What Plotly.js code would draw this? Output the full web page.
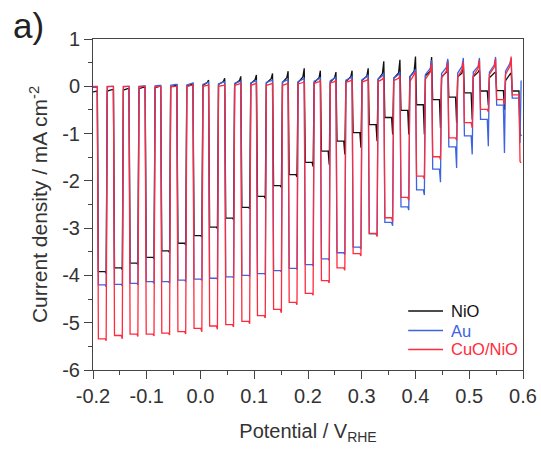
<!DOCTYPE html>
<html>
<head>
<meta charset="utf-8">
<script src="https://cdn.plot.ly/plotly-3.0.1.min.js"></script>
<style>html,body{margin:0;padding:0;background:#fff;}#chart{width:541px;height:449px;}</style>
</head>
<body>
<div id="chart"></div>
<script>
// Potential (V vs RHE) at which each illuminated segment begins
const lightOn = [-0.190,-0.160,-0.131,-0.101,-0.072,-0.042,-0.012,0.017,0.047,0.077,0.106,0.136,0.165,0.195,0.225,0.254,0.284,0.314,0.343,0.373,0.402,0.432,0.462,0.491,0.521,0.551,0.580];

// NiO (black)
const nioLight  = [-3.92,-3.84,-3.74,-3.62,-3.48,-3.32,-3.16,-2.98,-2.79,-2.56,-2.33,-2.10,-1.87,-1.61,-1.37,-1.16,-0.98,-0.81,-0.66,-0.51,-0.39,-0.28,-0.23,-0.14,-0.10,-0.09,-0.10];
const nioSpike  = [-3.96,-3.88,-3.77,-3.65,-3.52,-3.36,-3.19,-3.01,-2.82,-2.59,-2.37,-2.14,-1.92,-1.70,-1.66,-1.44,-1.30,-1.16,-1.02,-1.02,-1.02,-0.88,-0.77,-0.70,-0.40,-0.50,-1.00];
const nioDark0  = [-0.12,-0.10,-0.08,-0.05,-0.03,-0.01,0.00,0.02,0.04,0.05,0.06,0.07,0.08,0.08,0.08,0.09,0.10,0.12,0.15,0.17,0.20,0.22,0.20,0.20,0.20,0.18,0.12];
const nioDark1  = [-0.10,-0.07,-0.05,-0.02,0.00,0.02,0.04,0.08,0.10,0.12,0.14,0.16,0.18,0.20,0.18,0.18,0.20,0.22,0.27,0.28,0.32,0.32,0.30,0.28,0.30,0.28,0.25];
const nioPeak   = [-0.10,-0.07,-0.05,-0.02,0.00,0.03,0.06,0.13,0.17,0.21,0.24,0.27,0.32,0.38,0.33,0.30,0.33,0.38,0.53,0.56,0.63,0.62,0.55,0.50,0.35,0.30,0.28];
const nioEnd = -1.05;

// Au (blue)
const auLight   = [-4.20,-4.19,-4.17,-4.13,-4.13,-4.10,-4.08,-4.06,-4.03,-4.00,-3.96,-3.90,-3.85,-3.77,-3.65,-3.52,-3.40,-3.12,-2.88,-2.55,-2.19,-1.75,-1.28,-1.05,-0.70,-0.40,-0.25];
const auSpike   = [-4.24,-4.22,-4.20,-4.17,-4.16,-4.13,-4.10,-4.08,-4.05,-4.02,-3.98,-3.92,-3.87,-3.80,-3.68,-3.56,-3.44,-3.16,-2.95,-2.62,-2.30,-2.03,-1.73,-1.44,-1.27,-1.41,-1.20];
const auDark0   = [-0.02,0.00,0.00,0.00,0.01,0.02,0.03,0.04,0.05,0.06,0.07,0.08,0.09,0.10,0.11,0.12,0.13,0.14,0.15,0.17,0.20,0.25,0.27,0.28,0.30,0.30,0.32];
const auDark1   = [-0.02,0.00,0.00,0.01,0.02,0.04,0.06,0.08,0.09,0.10,0.11,0.12,0.13,0.15,0.16,0.17,0.18,0.20,0.22,0.25,0.30,0.38,0.40,0.42,0.42,0.45,0.48];
const auPeak    = [-0.02,0.00,0.00,0.01,0.02,0.04,0.07,0.09,0.10,0.11,0.12,0.14,0.15,0.18,0.19,0.20,0.22,0.25,0.27,0.30,0.36,0.55,0.58,0.60,0.60,0.62,0.58];
const auEnd = 0.12;

// CuO/NiO (red)
const cuoLight  = [-5.34,-5.27,-5.24,-5.24,-5.22,-5.19,-5.12,-5.07,-5.04,-4.97,-4.85,-4.72,-4.57,-4.38,-4.11,-3.84,-3.54,-3.11,-2.78,-2.35,-1.90,-1.49,-1.09,-0.77,-0.49,-0.28,-0.18];
const cuoSpike  = [-5.38,-5.34,-5.29,-5.28,-5.26,-5.24,-5.19,-5.14,-5.09,-5.02,-4.90,-4.79,-4.62,-4.42,-4.16,-3.89,-3.59,-3.18,-2.86,-2.41,-1.96,-1.55,-1.14,-0.88,-0.54,-0.38,-1.59];
const cuoDark0  = [0.00,-0.01,-0.01,-0.01,-0.01,-0.01,0.00,0.00,0.00,0.02,0.02,0.02,0.02,0.05,0.06,0.07,0.08,0.09,0.10,0.12,0.10,0.15,0.18,0.20,0.22,0.25,0.25];
const cuoDark1  = [0.00,0.00,0.00,0.00,0.00,0.00,0.02,0.02,0.02,0.05,0.05,0.05,0.05,0.08,0.10,0.10,0.12,0.13,0.15,0.17,0.25,0.30,0.32,0.35,0.38,0.40,0.42];
const cuoPeak   = [0.00,0.00,0.00,0.00,0.00,0.00,0.03,0.03,0.03,0.07,0.07,0.07,0.07,0.10,0.12,0.13,0.15,0.16,0.20,0.22,0.30,0.48,0.50,0.52,0.55,0.58,0.63];
const cuoEnd = -1.62;

const seriesNames = ['NiO','Au','CuO/NiO'];
const seriesColors = ['#111111','#3d63e0','#ff2a3c'];

const xTickVals = [-0.2,-0.1,0.0,0.1,0.2,0.3,0.4,0.5,0.6];
const xTickText = ['-0.2','-0.1','0.0','0.1','0.2','0.3','0.4','0.5','0.6'];
const yTickVals = [-6,-5,-4,-3,-2,-1,0,1];
const yTickText = ['-6','-5','-4','-3','-2','-1','0','1'];

function buildCurve(light, spike, dark0, dark1, peak, endVal) {
  const x = [], y = [];
  const n = lightOn.length;
  x.push(-0.2); y.push(dark0[0]);
  for (let k = 0; k < n; k++) {
    const v = lightOn[k];
    if (k > 0) { x.push(lightOn[k-1] + 0.0165); y.push(dark0[k]); }
    x.push(v - 0.0045); y.push(dark1[k]);
    x.push(v - 0.002);  y.push(peak[k]);
    x.push(v);          y.push(light[k]);
    x.push(v + 0.0125); y.push(light[k]);
    x.push(v + 0.0145); y.push(spike[k]);
  }
  x.push(lightOn[n-1] + 0.0165); y.push(endVal);
  return {x, y};
}

const curves = [
  buildCurve(nioLight, nioSpike, nioDark0, nioDark1, nioPeak, nioEnd),
  buildCurve(auLight, auSpike, auDark0, auDark1, auPeak, auEnd),
  buildCurve(cuoLight, cuoSpike, cuoDark0, cuoDark1, cuoPeak, cuoEnd)
];

const traces = curves.map((c, i) => ({
  type: 'scatter', mode: 'lines',
  x: c.x, y: c.y,
  name: seriesNames[i],
  showlegend: false,
  line: {color: seriesColors[i], width: 1.3}
}));

// Legend drawn as paper-positioned samples + coloured labels
const legendRowsY = [0.178, 0.119, 0.062];
const legendShapes = seriesNames.map((s, i) => ({
  type: 'line', xref: 'paper', yref: 'paper',
  x0: 0.733, x1: 0.814, y0: legendRowsY[i], y1: legendRowsY[i],
  line: {color: seriesColors[i], width: 1.5}
}));
const legendLabels = seriesNames.map((s, i) => ({
  text: s, xref: 'paper', yref: 'paper', x: 0.828, y: legendRowsY[i],
  xanchor: 'left', yanchor: 'middle', showarrow: false,
  font: {size: 16.5, color: seriesColors[i]}
}));

const axisCommon = {
  showline: true, linecolor: '#444', linewidth: 1, mirror: true,
  showgrid: false, zeroline: false,
  ticks: 'outside', ticklen: 8, tickcolor: '#444', tickwidth: 1,
  tickfont: {size: 20, color: '#333'}
};

const layout = {
  width: 541, height: 449,
  margin: {l: 93, r: 18, t: 39, b: 79},
  paper_bgcolor: '#ffffff', plot_bgcolor: '#ffffff',
  font: {family: '"Liberation Sans", Arial, sans-serif', size: 20, color: '#333'},
  showlegend: false,
  xaxis: Object.assign({}, axisCommon, {
    range: [-0.2, 0.6], tickmode: 'array', tickvals: xTickVals, ticktext: xTickText,
    minor: {tickmode: 'linear', tick0: -0.2, dtick: 0.05, ticks: 'outside', ticklen: 4, tickcolor: '#444'},
    title: {text: 'Potential / V<sub>RHE</sub>', font: {size: 20, color: '#333'}, standoff: 17}
  }),
  yaxis: Object.assign({}, axisCommon, {
    range: [-6, 1], tickmode: 'array', tickvals: yTickVals, ticktext: yTickText,
    minor: {tickmode: 'linear', tick0: 0, dtick: 0.5, ticks: 'outside', ticklen: 4, tickcolor: '#444'},
    title: {text: 'Current density / mA cm<sup>-2</sup>', font: {size: 21, color: '#333'}, standoff: 8}
  }),
  shapes: legendShapes,
  annotations: legendLabels.concat([{
    text: 'a)', xref: 'paper', yref: 'paper', x: -0.149, y: 1.04,
    xanchor: 'center', yanchor: 'middle', showarrow: false,
    font: {size: 35, color: '#222'}
  }])
};

Plotly.newPlot('chart', traces, layout, {staticPlot: true, displayModeBar: false});
</script>
</body>
</html>
